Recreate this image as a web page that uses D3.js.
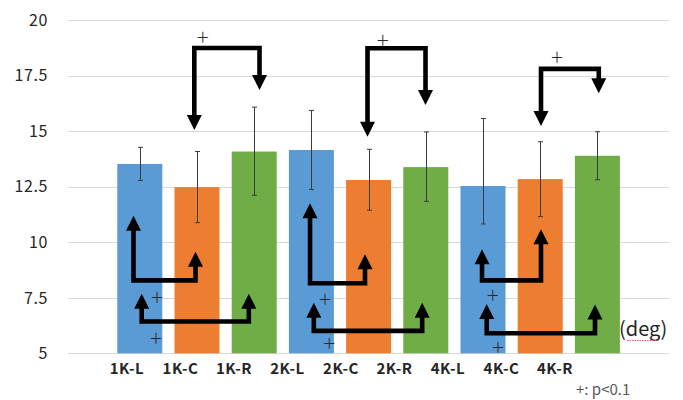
<!DOCTYPE html>
<html>
<head>
<meta charset="utf-8">
<script src="https://cdn.jsdelivr.net/npm/d3@7"></script>
<style>
  html, body { margin: 0; padding: 0; background: #fff; }
  svg { display: block; }
  text { font-family: "Noto Sans CJK JP", "Noto Sans", sans-serif; }
</style>
</head>
<body>
<svg id="chart" width="683" height="400"></svg>
<script>
// ---- data ----
const categories = ["1K-L", "1K-C", "1K-R", "2K-L", "2K-C", "2K-R", "4K-L", "4K-C", "4K-R"];
const groupOf    = ["L", "C", "R", "L", "C", "R", "L", "C", "R"];
const means      = [13.52, 12.48, 14.08, 14.15, 12.80, 13.38, 12.53, 12.84, 13.89];
const errUp      = [0.75, 1.60, 2.00, 1.78, 1.38, 1.58, 3.04, 1.68, 1.08];
const errDown    = [0.74, 1.60, 1.97, 1.78, 1.36, 1.54, 1.71, 1.69, 1.08];
const yTicks     = [5, 7.5, 10, 12.5, 15, 17.5, 20];
const yTickLabels = ["5", "7.5", "10", "12.5", "15", "17.5", "20"];

// significance brackets: positions in category index units (x) and value units (y)
// top brackets: arrows point down
const topBrackets = [
  { x1: 0.953, x2: 2.093, yh: 18.74, tip1: 15.05, tip2: 16.85 },
  { x1: 3.981, x2: 4.995, yh: 18.73, tip1: 14.75, tip2: 16.17 },
  { x1: 7.014, x2: 8.024, yh: 17.80, tip1: 15.23, tip2: 16.70 }
];
// bottom brackets: arrows point up
const bottomBrackets = [
  { x1: -0.110, x2: 0.974, yh: 8.28, tip1: 11.19, tip2: 9.57 },
  { x1: 0.033,  x2: 1.906, yh: 6.43, tip1: 7.68,  tip2: 7.68 },
  { x1: 2.976,  x2: 3.937, yh: 8.15, tip1: 11.75, tip2: 9.46 },
  { x1: 3.042,  x2: 4.937, yh: 6.01, tip1: 7.28,  tip2: 7.28 },
  { x1: 5.983,  x2: 7.014, yh: 8.28, tip1: 9.68,  tip2: 10.58 },
  { x1: 6.065,  x2: 7.958, yh: 5.90, tip1: 7.22,  tip2: 7.20 }
];
const plusMarks = [
  { x: 1.10, y: 19.22 }, { x: 4.247, y: 19.10 }, { x: 7.294, y: 18.35 },
  { x: 0.301, y: 7.55 }, { x: 0.283, y: 5.69 },
  { x: 3.238, y: 7.44 }, { x: 3.313, y: 5.45 },
  { x: 6.17, y: 7.62 },  { x: 6.262, y: 5.30 }
];
const plusSymbol = "＋";
const unitLabel = "(deg)";
const noteLabel = "+: p<0.1";

// ---- styles / layout ----
const colors = { L: "#5B9BD5", C: "#ED7D31", R: "#70AD47" };
const plotLeft = 68, plotRight = 669;
const yTop = 20, yBottom = 353.3;

const svg = d3.select("#chart");

const x = d3.scaleBand()
  .domain(categories)
  .range([111.2, 626.0])
  .paddingInner(0.2133)
  .paddingOuter(0.1066);

const y = d3.scaleLinear().domain([5, 20]).range([yBottom, yTop]);

const pos = f => x(categories[0]) + x.bandwidth() / 2 + f * x.step();

const labelX = d3.scalePoint().domain(categories).range([127, 555]);

// gridlines
svg.append("g")
  .selectAll("line")
  .data(yTicks)
  .join("line")
  .attr("x1", plotLeft).attr("x2", plotRight)
  .attr("y1", d => Math.round(y(d)) + 0.5).attr("y2", d => Math.round(y(d)) + 0.5)
  .attr("stroke", "#D9D9D9")
  .attr("stroke-width", 1);

// y tick labels
svg.append("g")
  .selectAll("text")
  .data(yTicks)
  .join("text")
  .attr("x", 48)
  .attr("y", d => y(d))
  .attr("dy", "0.36em")
  .attr("text-anchor", "end")
  .attr("font-size", 16)
  .attr("letter-spacing", 0.6)
  .attr("fill", "#262626")
  .text((d, i) => yTickLabels[i]);

// bars
svg.append("g")
  .selectAll("rect")
  .data(categories)
  .join("rect")
  .attr("x", d => x(d))
  .attr("width", x.bandwidth())
  .attr("y", (d, i) => y(means[i]))
  .attr("height", (d, i) => y(5) - y(means[i]))
  .attr("fill", (d, i) => colors[groupOf[i]]);

// error bars
const eb = svg.append("g").attr("stroke", "#3a3a3a").attr("stroke-width", 1);
categories.forEach((c, i) => {
  const cx = Math.round(x(c) + x.bandwidth() / 2) + 0.5;
  const t = y(means[i] + errUp[i]), b = y(means[i] - errDown[i]);
  eb.append("line").attr("x1", cx).attr("x2", cx).attr("y1", t).attr("y2", b);
  eb.append("line").attr("x1", cx - 2.5).attr("x2", cx + 2.5).attr("y1", t).attr("y2", t);
  eb.append("line").attr("x1", cx - 2.5).attr("x2", cx + 2.5).attr("y1", b).attr("y2", b);
});

// x labels
svg.append("g")
  .selectAll("text")
  .data(categories)
  .join("text")
  .attr("x", d => labelX(d))
  .attr("y", 374)
  .attr("text-anchor", "middle")
  .attr("font-size", 15)
  .attr("font-weight", "bold")
  .attr("letter-spacing", 0.5)
  .attr("fill", "#262626")
  .text(d => d);

// brackets
const ann = svg.append("g");
const line = d3.line();
const headLen = 15, headHalf = 7.5, lw = 4.6;

function drawBracket(bk, dir) {
  // dir = +1 arrows point down, -1 arrows point up
  const X1 = pos(bk.x1), X2 = pos(bk.x2), YH = y(bk.yh);
  const T1 = y(bk.tip1), T2 = y(bk.tip2);
  const B1 = T1 - dir * headLen, B2 = T2 - dir * headLen;
  ann.append("path")
    .attr("d", line([[X1, B1 + dir], [X1, YH], [X2, YH], [X2, B2 + dir]]))
    .attr("fill", "none")
    .attr("stroke", "#000")
    .attr("stroke-width", lw)
    .attr("stroke-linejoin", "miter")
    .attr("stroke-linecap", "butt");
  [[X1, T1, B1], [X2, T2, B2]].forEach(([hx, ty, by]) => {
    ann.append("path")
      .attr("d", line([[hx, ty], [hx - headHalf, by], [hx + headHalf, by]]) + "Z")
      .attr("fill", "#000");
  });
}
topBrackets.forEach(bk => drawBracket(bk, 1));
bottomBrackets.forEach(bk => drawBracket(bk, -1));

// plus marks
svg.append("g")
  .selectAll("text")
  .data(plusMarks)
  .join("text")
  .attr("x", d => pos(d.x))
  .attr("y", d => y(d.y))
  .attr("dy", "0.36em")
  .attr("text-anchor", "middle")
  .attr("font-size", 14)
  .attr("fill", "#2a2a2a")
  .text(plusSymbol);

// unit label
svg.append("text")
  .attr("x", 619)
  .attr("y", 336)
  .attr("font-size", 20)
  .attr("fill", "#262626")
  .text(unitLabel);
svg.append("line")
  .attr("x1", 627).attr("x2", 659)
  .attr("y1", 340.5).attr("y2", 340.5)
  .attr("stroke", "#E06060")
  .attr("stroke-width", 1)
  .attr("stroke-dasharray", "1.5,1");

// note
svg.append("text")
  .attr("x", 576)
  .attr("y", 395)
  .attr("font-size", 15)
  .attr("fill", "#595959")
  .text(noteLabel);
</script>
</body>
</html>
